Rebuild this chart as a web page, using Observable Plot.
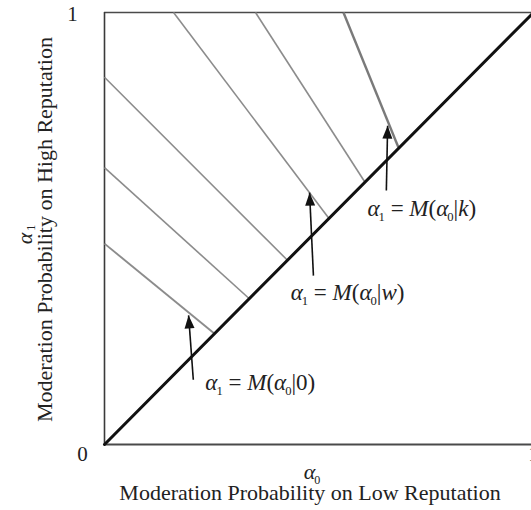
<!DOCTYPE html>
<html><head><meta charset="utf-8">
<script src="https://cdn.jsdelivr.net/npm/d3@7"></script>
<script src="https://cdn.jsdelivr.net/npm/@observablehq/plot@0.6"></script>
<style>html,body{margin:0;padding:0;background:#fff;overflow:hidden;}</style>
</head><body><div id="chart"></div>
<script>
// ---- data (unit square: alpha0 on x, alpha1 on y) ----
const originTick = ["0"];
const xTicks = [1];
const yTicks = [1];
const diagX = [0, 1];
const diagY = [0, 1];
// iso-lines: start on left/top edge, end on the diagonal
const isoStartX = [0, 0, 0, 0.161, 0.352, 0.557];
const isoStartY = [0.465, 0.641, 0.850, 1, 1, 1];
const isoEndX = [0.256, 0.337, 0.427, 0.522, 0.608, 0.685];
const isoEndY = [0.257, 0.338, 0.426, 0.525, 0.606, 0.688];
// arrows
const arrowTailX = [0.207, 0.487, 0.657];
const arrowTailY = [0.150, 0.391, 0.588];
const arrowTipX = [0.196, 0.478, 0.660];
const arrowTipY = [0.299, 0.583, 0.738];
// annotation labels  α1 = M(α0|arg)
const labelArg = ["0", "w", "k"];
const labelX = [0.235, 0.434, 0.613];
const labelY = [0.1435, 0.352, 0.546];
const xTitle = "Moderation Probability on Low Reputation";
const yTitle = "Moderation Probability on High Reputation";
const xSymbol = "α_0";
const ySymbolParts = ["α", "1"];
const ySymbolX = [-0.186, -0.172];
const ySymbolY = [0.477, 0.502];

const serif = "'Liberation Serif', 'Times New Roman', serif";
const isoIdx = d3.range(isoStartX.length);
const arrIdx = d3.range(arrowTailX.length);

// narrow filled arrowhead, tip at origin, pointing up
const headSymbol = {draw(ctx) { ctx.moveTo(0, 0); ctx.lineTo(-5, 13); ctx.lineTo(5, 13); ctx.closePath(); }};

const plot = Plot.plot({
  width: 531, height: 510,
  marginLeft: 104, marginRight: 0, marginTop: 12, marginBottom: 66,
  x: {domain: [0, 1], range: [104, 533], axis: null},
  y: {domain: [0, 1], range: [444, 12], axis: null},
  style: {fontFamily: serif, fontSize: "21px", color: "#222", background: "#fff", overflow: "hidden"},
  marks: [
    Plot.ruleY([0], {stroke: "#4a4a4a", strokeWidth: 2}),
    Plot.ruleY([1], {stroke: "#4a4a4a", strokeWidth: 1.6}),
    Plot.ruleX([0], {stroke: "#3a3a3a", strokeWidth: 1.6}),
    Plot.link(isoIdx, {
      x1: i => isoStartX[i], y1: i => isoStartY[i],
      x2: i => isoEndX[i], y2: i => isoEndY[i],
      stroke: i => (i === 5 ? "#7a7a7a" : "#8c8c8c"),
      strokeWidth: i => (i === 5 ? 2.4 : i === 0 ? 1.9 : 1.6)
    }),
    Plot.line(d3.range(2), {x: i => diagX[i], y: i => diagY[i], stroke: "#111", strokeWidth: 3}),
    Plot.link(arrIdx, {
      x1: i => arrowTailX[i], y1: i => arrowTailY[i],
      x2: i => arrowTipX[i], y2: i => arrowTipY[i],
      stroke: "#111", strokeWidth: 1.6
    }),
    Plot.dot(arrIdx, {
      x: i => arrowTipX[i], y: i => arrowTipY[i],
      symbol: headSymbol, r: 5, fill: "#111", stroke: "none",
      rotate: i => Math.atan2(arrowTipX[i] - arrowTailX[i], arrowTipY[i] - arrowTailY[i]) * 180 / Math.PI
    }),
    Plot.text(arrIdx, {
      x: i => labelX[i], y: i => labelY[i],
      text: i => `α_1 = M(α_0|${labelArg[i]})`,
      textAnchor: "start", fontSize: 23, fill: "#222"
    }),
    // tick labels
    Plot.text(originTick, {frameAnchor: "bottom-left", text: d => d, textAnchor: "middle", dx: -22, dy: 16, fontSize: 21, fill: "#222"}),
    Plot.text(xTicks, {x: d => d, frameAnchor: "bottom", text: d => String(d), textAnchor: "middle", dy: 16, fontSize: 21, fill: "#222"}),
    Plot.text(yTicks, {y: d => d, frameAnchor: "left", text: d => String(d), textAnchor: "middle", dx: -32, dy: 2, fontSize: 21, fill: "#222"}),
    Plot.text([xSymbol], {frameAnchor: "bottom", textAnchor: "middle", dx: -6, dy: 34, fontSize: 22, fill: "#222"}),
    Plot.text([xTitle], {frameAnchor: "bottom", textAnchor: "middle", dx: -8, dy: 55, fontSize: 22, fill: "#222"}),
    // rotated y symbol: italic alpha and a small subscript 1
    Plot.text([0], {x: () => ySymbolX[0], y: () => ySymbolY[0], text: () => ySymbolParts[0], textAnchor: "middle", rotate: -90, fontSize: 22, fontStyle: "italic", fill: "#222"}),
    Plot.text([1], {x: () => ySymbolX[1], y: () => ySymbolY[1], text: () => ySymbolParts[1], textAnchor: "middle", rotate: -90, fontSize: 12, fill: "#222"}),
    Plot.text([yTitle], {frameAnchor: "left", textAnchor: "middle", dx: -60, dy: 1, rotate: -90, fontSize: 22, fill: "#222"})
  ]
});

// turn "α_1 = M(α_0|w)" into italic letters with small subscripts
function mathify(el) {
  const s = el.textContent;
  const parts = [];
  for (let k = 0; k < s.length; k++) {
    const c = s[k];
    if (c === "_") { parts.push({t: s[k + 1], sub: true}); k++; continue; }
    const italic = /[A-Za-zα-ω]/.test(c);
    const last = parts[parts.length - 1];
    if (last && !last.sub && last.italic === italic) last.t += c;
    else parts.push({t: c, italic});
  }
  el.textContent = "";
  let shifted = false;
  for (const p of parts) {
    const ts = document.createElementNS("http://www.w3.org/2000/svg", "tspan");
    ts.textContent = p.t;
    if (p.sub) {
      ts.setAttribute("font-size", "0.55em");
      ts.setAttribute("dy", "5");
      ts.setAttribute("dx", "-1");
      shifted = true;
    } else {
      if (shifted) { ts.setAttribute("dy", "-5"); shifted = false; }
      if (p.italic) ts.setAttribute("font-style", "italic");
    }
    el.appendChild(ts);
  }
}
d3.select(plot).selectAll("text").each(function() {
  if (this.textContent.includes("_")) mathify(this);
});

document.getElementById("chart").appendChild(plot);
</script>
</body></html>
